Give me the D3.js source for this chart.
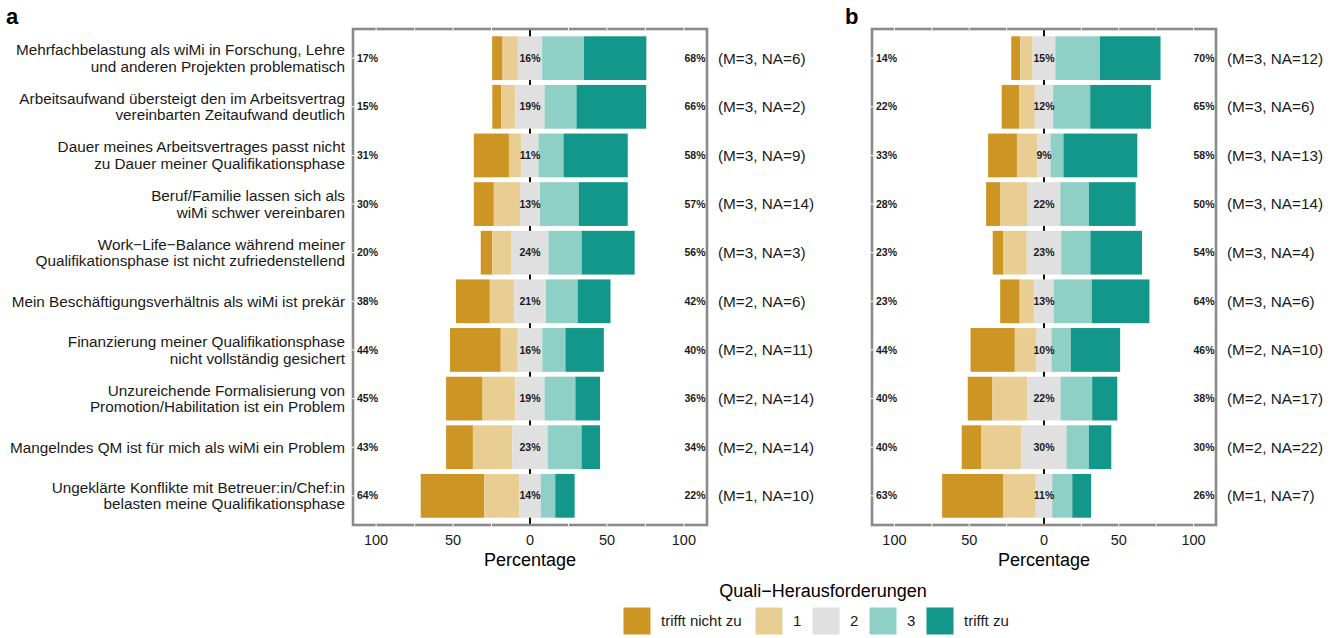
<!DOCTYPE html>
<html>
<head>
<meta charset="utf-8">
<script src="https://cdn.jsdelivr.net/npm/d3@7"></script>
<style>
  body { margin: 0; background: #fff; }
  svg { font-family: "Liberation Sans", Arial, sans-serif; }
</style>
</head>
<body>
<div id="chart"></div>
<script>
// Kategorien (Zeilen, je zwei Textzeilen)
var items = [
  ["Mehrfachbelastung als wiMi in Forschung, Lehre", "und anderen Projekten problematisch"],
  ["Arbeitsaufwand übersteigt den im Arbeitsvertrag", "vereinbarten Zeitaufwand deutlich"],
  ["Dauer meines Arbeitsvertrages passt nicht", "zu Dauer meiner Qualifikationsphase"],
  ["Beruf/Familie lassen sich als", "wiMi schwer vereinbaren"],
  ["Work\u2212Life\u2212Balance während meiner", "Qualifikationsphase ist nicht zufriedenstellend"],
  ["Mein Beschäftigungsverhältnis als wiMi ist prekär"],
  ["Finanzierung meiner Qualifikationsphase", "nicht vollständig gesichert"],
  ["Unzureichende Formalisierung von", "Promotion/Habilitation ist ein Problem"],
  ["Mangelndes QM ist für mich als wiMi ein Problem"],
  ["Ungeklärte Konflikte mit Betreuer:in/Chef:in", "belasten meine Qualifikationsphase"]
];

var levels = ["trifft nicht zu", "1", "2", "3", "trifft zu"];
var colors = ["#cd9524", "#e9ce94", "#e0e0e0", "#8ecfc6", "#13978a"];

// Anteile in % je Stufe, Panel a
var valsA = [
  [6.8, 9.9, 15.8, 27.2, 40.5],
  [5.8, 9.2, 19.0, 20.7, 45.3],
  [22.8, 8.2, 11.0, 16.3, 41.7],
  [13.0, 17.0, 13.0, 25.3, 31.7],
  [7.4, 12.6, 24.0, 21.6, 34.4],
  [22.0, 15.8, 20.6, 20.7, 21.3],
  [33.0, 11.0, 16.0, 15.0, 25.0],
  [23.7, 21.3, 19.0, 20.0, 16.0],
  [17.4, 25.6, 23.0, 22.0, 12.0],
  [41.3, 22.7, 14.0, 9.4, 12.6]
];
// Panel b
var valsB = [
  [6.0, 8.3, 15.2, 29.8, 40.5],
  [11.6, 10.6, 12.2, 24.8, 40.6],
  [19.3, 13.7, 8.8, 8.6, 49.4],
  [9.6, 18.2, 21.8, 19.2, 31.2],
  [7.2, 15.6, 23.0, 19.5, 34.5],
  [13.0, 9.8, 13.0, 25.4, 38.6],
  [29.6, 14.5, 10.0, 12.9, 33.0],
  [16.3, 23.7, 22.0, 21.2, 16.8],
  [13.2, 26.8, 30.0, 15.0, 15.0],
  [41.0, 21.6, 11.0, 13.4, 12.6]
];

var notesA = ["(M=3, NA=6)", "(M=3, NA=2)", "(M=3, NA=9)", "(M=3, NA=14)", "(M=3, NA=3)",
              "(M=2, NA=6)", "(M=2, NA=11)", "(M=2, NA=14)", "(M=2, NA=14)", "(M=1, NA=10)"];
var notesB = ["(M=3, NA=12)", "(M=3, NA=6)", "(M=3, NA=13)", "(M=3, NA=14)", "(M=3, NA=4)",
              "(M=3, NA=6)", "(M=2, NA=10)", "(M=2, NA=17)", "(M=2, NA=22)", "(M=1, NA=7)"];

var xTicks = [-100, -75, -50, -25, 0, 25, 50, 75, 100];
var xLabels = [-100, -50, 0, 50, 100];

var W = 1338, H = 638;
var svg = d3.select("#chart").append("svg").attr("width", W).attr("height", H);

var yTop = 29, yBottom = 525;
var y = d3.scalePoint().domain(d3.range(items.length)).range([yTop, yBottom]).padding(0.6);
var barH = y.step() * 0.9;

function panel(left, right, vals, notes, tag, showLabels) {
  var x = d3.scaleLinear().domain([-115, 115]).range([left, right]);
  var g = svg.append("g");

  // Nulllinie
  g.append("line").attr("x1", x(0)).attr("x2", x(0)).attr("y1", yTop).attr("y2", yBottom)
    .attr("stroke", "#111").attr("stroke-width", 2);

  vals.forEach(function(v, i) {
    var acc = -(v[0] + v[1] + v[2] / 2);
    var row = g.append("g");
    v.forEach(function(val, k) {
      row.append("rect")
        .attr("x", x(acc)).attr("width", x(acc + val) - x(acc))
        .attr("y", y(i) - barH / 2).attr("height", barH)
        .attr("fill", colors[k]);
      acc += val;
    });
    var low = Math.round(v[0] + v[1]), mid = Math.round(v[2]), high = Math.round(v[3] + v[4]);
    g.append("text").attr("x", left + 4).attr("y", y(i)).attr("dy", "0.35em")
      .attr("font-size", 10.5).attr("font-weight", "bold").attr("fill", "#1a1a1a").text(low + "%");
    g.append("text").attr("x", x(0)).attr("y", y(i)).attr("dy", "0.35em").attr("text-anchor", "middle")
      .attr("font-size", 10.5).attr("font-weight", "bold").attr("fill", "#1a1a1a").text(mid + "%");
    g.append("text").attr("x", right - 1.5).attr("y", y(i)).attr("dy", "0.35em").attr("text-anchor", "end")
      .attr("font-size", 10.5).attr("font-weight", "bold").attr("fill", "#1a1a1a").text(high + "%");
    g.append("text").attr("x", right + 11).attr("y", y(i)).attr("dy", "0.35em")
      .attr("font-size", 15.3).attr("fill", "#1a1a1a").text(notes[i]);
  });

  // Rahmen
  g.append("rect").attr("x", left).attr("y", yTop).attr("width", right - left).attr("height", yBottom - yTop)
    .attr("fill", "none").attr("stroke", "#8a8a8a").attr("stroke-width", 2.6);

  // weiße Gitter-Markierungen auf dem Rahmen
  xTicks.forEach(function(t) {
    if (t === 0) return;
    [yTop, yBottom].forEach(function(yy) {
      g.append("line").attr("x1", x(t)).attr("x2", x(t)).attr("y1", yy - 1.3).attr("y2", yy + 1.3)
        .attr("stroke", "#fff").attr("stroke-width", 1);
    });
  });
  items.forEach(function(d, i) {
    g.append("line").attr("x1", left - 1.3).attr("x2", left + 1.3).attr("y1", y(i)).attr("y2", y(i))
      .attr("stroke", "#fff").attr("stroke-width", 1);
  });

  // Achsenbeschriftung
  xLabels.forEach(function(t) {
    g.append("text").attr("x", x(t)).attr("y", yBottom + 20).attr("text-anchor", "middle")
      .attr("font-size", 14.5).attr("fill", "#1a1a1a").text(Math.abs(t));
  });
  g.append("text").attr("x", x(0)).attr("y", yBottom + 41).attr("text-anchor", "middle")
    .attr("font-size", 18).attr("fill", "#000").text("Percentage");

  svg.append("text").attr("x", tag.x).attr("y", 24).attr("font-size", 22).attr("font-weight", "bold")
    .text(tag.t);

  if (showLabels) {
    items.forEach(function(lines, i) {
      var t = g.append("text").attr("text-anchor", "end").attr("font-size", 15.3).attr("fill", "#1a1a1a");
      var off = (lines.length - 1) * 16.6 / 2;
      lines.forEach(function(s, j) {
        t.append("tspan").attr("x", left - 8).attr("y", y(i) - off + j * 16.6).attr("dy", "0.35em").text(s);
      });
    });
  }
}

panel(353, 707, valsA, notesA, {x: 6, t: "a"}, true);
panel(872, 1216, valsB, notesB, {x: 845, t: "b"}, false);

// Legende
svg.append("text").attr("x", 823).attr("y", 597).attr("text-anchor", "middle")
  .attr("font-size", 18).attr("fill", "#000").text("Quali\u2212Herausforderungen");
var legX = [623, 755, 812, 869, 926];
levels.forEach(function(l, k) {
  svg.append("rect").attr("x", legX[k]).attr("y", 607).attr("width", 28).attr("height", 28)
    .attr("fill", colors[k]).attr("stroke", "#fff").attr("stroke-width", 1);
  svg.append("text").attr("x", legX[k] + 38).attr("y", 621).attr("dy", "0.35em")
    .attr("font-size", 15).attr("fill", "#1a1a1a").text(l);
});
</script>
</body>
</html>
